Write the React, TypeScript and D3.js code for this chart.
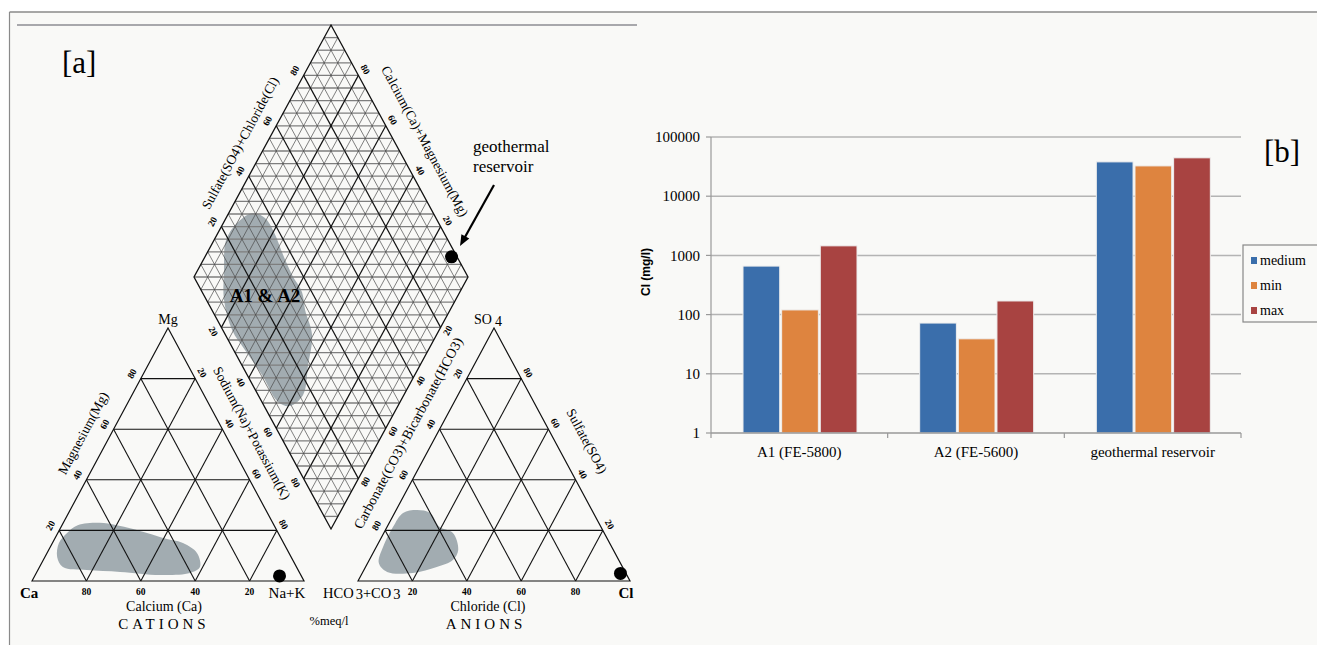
import React from "react"
import * as d3 from "d3"

// ---- bar chart data [b] ----
const categories = ["A1 (FE-5800)", "A2 (FE-5600)", "geothermal reservoir"]
const seriesNames = ["medium", "min", "max"]
const mediumValues = [660, 72, 38000]
const minValues = [120, 39, 32500]
const maxValues = [1450, 170, 44500]
const yTickValues = [1, 10, 100, 1000, 10000, 100000]
const seriesColors = ["#3a6eab", "#de843f", "#a84341"]

// ---- piper diagram data [a] (percent meq/l) ----
const gridSteps = [20, 40, 60, 80]
// cation field: Mg %, Na+K %
const cationFieldMg = [15, 19, 22, 23, 22, 19, 17, 15, 11, 5.5, 3.2, 2.4, 3.6, 4.3, 5.5, 9.5]
const cationFieldNaK = [2.4, 3.4, 5.8, 13.3, 20.2, 32.8, 39.7, 48, 55.2, 59, 56.5, 45.9, 30.6, 18, 8.6, 4.5]
// anion field: SO4 %, Cl %
const anionFieldSO4 = [28.1, 26.9, 21.3, 19, 12.3, 8.3, 5.5, 3.2, 3.6, 7.1, 13.4, 21.3, 26.9]
const anionFieldCl = [7.7, 13.1, 19.4, 25.4, 30.7, 30.7, 26.2, 18.6, 8.9, 4.1, 2.5, 2.2, 3.1]
// diamond field: Na+K %, HCO3+CO3 %
const diamondFieldNaK = [8.8, 14.2, 20.3, 28.1, 35.4, 42.4, 47.1, 54.6, 59.1, 63.2, 60.6, 55.5, 44.3, 33.1, 24.4, 15.5, 9.6, 4.4, 5.2]
const diamondFieldHCO3 = [65.8, 62.4, 61.9, 63.1, 63.8, 63.6, 66, 68.4, 75.8, 83.6, 90.6, 94.1, 94.6, 95.9, 96.6, 93.6, 87.7, 81, 73]
// geothermal reservoir sample: [Mg, Na+K] and [SO4, Cl]
const geoCation = [2, 90]
const geoAnion = [3, 95]

const serif = "'Liberation Serif', 'Times New Roman', serif"
const EDGE = 61.74

function ternary(x0, yb, w, h) {
  const sx = d3.scaleLinear().domain([0, 100]).range([x0, x0 + w])
  const sy = d3.scaleLinear().domain([0, 100]).range([yb, yb - h])
  return (top, right) => [sx(right + top / 2), sy(top)]
}

const cation = ternary(32, 581, 272, 253)
const anion = ternary(358, 581, 272, 253)
const dX = d3.scaleLinear().domain([-100, 100]).range([194, 468])
const dY = d3.scaleLinear().domain([0, 200]).range([25, 529])
const diamond = (nak, hco3) => [dX(nak - hco3), dY(nak + hco3)]

const blob = d3.line().curve(d3.curveCatmullRomClosed.alpha(0.5))

function seg(a, b, key, stroke, sw) {
  return <line key={key} x1={a[0]} y1={a[1]} x2={b[0]} y2={b[1]} stroke={stroke} strokeWidth={sw} />
}

function edgeLabel(p, off, rot, text, key) {
  return (
    <text key={key} transform={`translate(${p[0] + off[0]},${p[1] + off[1]}) rotate(${rot})`}
      textAnchor="middle" dy="0.35em" fontSize={9.5} fontWeight="bold" fontFamily={serif}>{text}</text>
  )
}

function Triangle({ proj, top, right, left }) {
  const corners = [proj(0, 0), proj(100, 0), proj(0, 100)]
  const lines = []
  gridSteps.forEach(v => {
    lines.push(seg(proj(v, 0), proj(v, 100 - v), "t" + v, "#111", 1.1))
    lines.push(seg(proj(0, v), proj(100 - v, v), "r" + v, "#111", 1.1))
    lines.push(seg(proj(0, 100 - v), proj(100 - v, 0), "c" + v, "#111", 1.1))
  })
  return (
    <g>
      {lines}
      <polygon points={corners.map(c => c.join(",")).join(" ")} fill="none" stroke="#111" strokeWidth={1.2} />
      {gridSteps.map(v => edgeLabel(proj(...left(v)), [-9, -5], -EDGE, v, "lt" + v))}
      {gridSteps.map(v => edgeLabel(proj(...right(v)), [7, -6], EDGE, v, "rt" + v))}
      {gridSteps.map(v => edgeLabel(proj(...top(v)), [0, 11], 0, v, "bt" + v))}
    </g>
  )
}

function Piper() {
  const fine = []
  for (let k = 5; k < 100; k += 5) {
    const bold = k % 20 === 0
    fine.push(seg(diamond(k, 0), diamond(k, 100), "n" + k, bold ? "#111" : "#4a4a4a", bold ? 1.2 : 0.7))
    fine.push(seg(diamond(0, k), diamond(100, k), "h" + k, bold ? "#111" : "#4a4a4a", bold ? 1.2 : 0.7))
  }
  const horiz = []
  for (let s = 5; s < 200; s += 5) {
    const a = s <= 100 ? diamond(s, 0) : diamond(100, s - 100)
    const b = s <= 100 ? diamond(0, s) : diamond(s - 100, 100)
    horiz.push(seg(a, b, "s" + s, "#7e7e7e", 1.3))
  }
  const dOutline = [diamond(0, 0), diamond(100, 0), diamond(100, 100), diamond(0, 100)]
  const gD = diamond(geoCation[1], 100 - geoAnion[0] - geoAnion[1])
  const gC = cation(geoCation[0], geoCation[1])
  const gA = anion(geoAnion[0], geoAnion[1])
  const a0 = [494, 185], a1 = [460, 246]
  const len = Math.hypot(a1[0] - a0[0], a1[1] - a0[1])
  const ux = (a1[0] - a0[0]) / len, uy = (a1[1] - a0[1]) / len
  const head = [a1, [a1[0] - 11 * ux - 4.5 * uy, a1[1] - 11 * uy + 4.5 * ux], [a1[0] - 11 * ux + 4.5 * uy, a1[1] - 11 * uy - 4.5 * ux]]
  return (
    <g fontFamily={serif}>
      {/* fields */}
      <path d={blob(diamondFieldNaK.map((n, i) => diamond(n, diamondFieldHCO3[i])))} fill="#a2acb1" />
      <path d={blob(cationFieldMg.map((m, i) => cation(m, cationFieldNaK[i])))} fill="#a2acb1" />
      <path d={blob(anionFieldSO4.map((s, i) => anion(s, anionFieldCl[i])))} fill="#a2acb1" />
      {horiz}
      {fine}
      <polygon points={dOutline.map(c => c.join(",")).join(" ")} fill="none" stroke="#111" strokeWidth={1.3} />
      {gridSteps.map(v => edgeLabel(diamond(0, 100 - v), [-9, -5], -EDGE, v, "dul" + v))}
      {gridSteps.map(v => edgeLabel(diamond(100 - v, 0), [7, -6], EDGE, v, "dur" + v))}
      {gridSteps.map(v => edgeLabel(diamond(v, 100), [-8, 4], EDGE, v, "dll" + v))}
      {gridSteps.map(v => edgeLabel(diamond(100, v), [7, 3], -EDGE, v, "dlr" + v))}

      <Triangle proj={cation} left={v => [v, 0]} right={v => [100 - v, v]} top={v => [0, 100 - v]} />
      <Triangle proj={anion} left={v => [100 - v, 0]} right={v => [v, 100 - v]} top={v => [0, v]} />

      {/* geothermal sample */}
      <circle cx={gD[0]} cy={gD[1]} r={6.5} fill="#000" />
      <circle cx={gC[0]} cy={gC[1]} r={6.5} fill="#000" />
      <circle cx={gA[0]} cy={gA[1]} r={6.5} fill="#000" />
      <line x1={a0[0]} y1={a0[1]} x2={a1[0] - 8 * ux} y2={a1[1] - 8 * uy} stroke="#000" strokeWidth={2.2} />
      <polygon points={head.map(c => c.join(",")).join(" ")} fill="#000" />
      <text x={473} y={152} fontSize={17}>geothermal</text>
      <text x={473} y={172} fontSize={17}>reservoir</text>
      <text x={265} y={302} fontSize={19} fontWeight="bold" textAnchor="middle">A1 &amp; A2</text>

      {/* axis titles */}
      <text transform={`translate(240,143) rotate(${-EDGE})`} textAnchor="middle" dy="0.35em" fontSize={13.5}>Sulfate(SO4)+Chloride(Cl)</text>
      <text transform={`translate(425,141) rotate(${EDGE})`} textAnchor="middle" dy="0.35em" fontSize={13.5}>Calcium(Ca)+Magnesium(Mg)</text>
      <text transform={`translate(252,433) rotate(${EDGE})`} textAnchor="middle" dy="0.35em" fontSize={13.5}>Sodium(Na)+Potassium(K)</text>
      <text transform={`translate(83,433) rotate(${-EDGE})`} textAnchor="middle" dy="0.35em" fontSize={13.5}>Magnesium(Mg)</text>
      <text transform={`translate(408,433) rotate(${-EDGE})`} textAnchor="middle" dy="0.35em" fontSize={14}>Carbonate(CO3)+Bicarbonate(HCO3)</text>
      <text transform={`translate(587,441) rotate(${EDGE})`} textAnchor="middle" dy="0.35em" fontSize={13.5}>Sulfate(SO4)</text>

      {/* vertex labels */}
      <text x={168} y={324} fontSize={14} textAnchor="middle">Mg</text>
      <text x={488} y={324} fontSize={14} textAnchor="middle">SO<tspan dx={3} dy={2}>4</tspan></text>
      <text x={20} y={598} fontSize={15} fontWeight="bold">Ca</text>
      <text x={287} y={598} fontSize={15} textAnchor="middle">Na+K</text>
      <text x={323} y={598} fontSize={14.5}>HCO<tspan dx={2} dy={1}>3</tspan><tspan dy={-1}>+CO</tspan><tspan dx={2} dy={1}>3</tspan></text>
      <text x={626} y={598} fontSize={15} fontWeight="bold" textAnchor="middle">Cl</text>
      <text x={164} y={611} fontSize={14} textAnchor="middle">Calcium (Ca)</text>
      <text x={488} y={611} fontSize={14} textAnchor="middle">Chloride (Cl)</text>
      <text x={164} y={629} fontSize={15} textAnchor="middle" letterSpacing={4}>CATIONS</text>
      <text x={486} y={629} fontSize={15} textAnchor="middle" letterSpacing={4}>ANIONS</text>
      <text x={329} y={625} fontSize={12.5} textAnchor="middle">%meq/l</text>
      <text x={62} y={73} fontSize={31}>[a]</text>
    </g>
  )
}

function BarChart() {
  const x0 = d3.scaleBand().domain(categories).range([711, 1241])
  const x1 = d3.scaleBand().domain(seriesNames).range([32, 146]).paddingInner(0.05)
  const y = d3.scaleLog().domain([1, 100000]).range([433, 137])
  const series = [mediumValues, minValues, maxValues]
  const ticks = categories.map(c => x0(c)).concat([711 + 530])
  return (
    <g fontFamily={serif}>
      {yTickValues.map(t => (
        <g key={t}>
          {t > 1 && <line x1={711} x2={1241} y1={y(t)} y2={y(t)} stroke="#b4b4b4" strokeWidth={1.5} />}
          <line x1={706} x2={711} y1={y(t)} y2={y(t)} stroke="#999" strokeWidth={1.2} />
          <text x={700} y={y(t)} dy="0.35em" textAnchor="end" fontSize={15}>{t}</text>
        </g>
      ))}
      <line x1={711} x2={711} y1={137} y2={433} stroke="#999" strokeWidth={1.2} />
      {series.map((vals, si) => vals.map((v, ci) => (
        <rect key={si + "-" + ci} x={x0(categories[ci]) + x1(seriesNames[si])} y={y(v)}
          width={x1.bandwidth()} height={y(1) - y(v)} fill={seriesColors[si]} stroke="#eeeeee" strokeWidth={1} />
      )))}
      <line x1={711} x2={1241} y1={433} y2={433} stroke="#999" strokeWidth={1.5} />
      {ticks.map((t, i) => <line key={i} x1={t} x2={t} y1={433} y2={438} stroke="#999" strokeWidth={1.2} />)}
      {categories.map(c => (
        <text key={c} x={x0(c) + x0.bandwidth() / 2} y={457} textAnchor="middle" fontSize={15}>{c}</text>
      ))}
      <text transform="translate(650,272) rotate(-90)" textAnchor="middle" fontSize={12} fontWeight="bold"
        fontFamily="'Liberation Sans', Arial, sans-serif">Cl (mg/l)</text>
      <rect x={1243} y={245} width={80} height={77} fill="#f9f9f7" stroke="#888" strokeWidth={1.2} />
      {seriesNames.map((s, i) => (
        <g key={s}>
          <rect x={1251} y={257 + i * 25} width={6} height={7} fill={seriesColors[i]} />
          <text x={1260} y={260.5 + i * 25} dy="0.35em" fontSize={14}>{s}</text>
        </g>
      ))}
      <text x={1264} y={162} fontSize={31}>[b]</text>
    </g>
  )
}

export default function App() {
  return (
    <svg width={1317} height={645} style={{ position: "absolute", left: 0, top: 0, background: "#fff" }}>
      <rect x={0} y={0} width={1317} height={645} fill="#fff" />
      <rect x={9.5} y={12} width={1320} height={640} fill="#f9f9f7" />
      <line x1={9.5} x2={1317} y1={12} y2={12} stroke="#8a8a8a" strokeWidth={1.5} />
      <line x1={9.5} x2={9.5} y1={12} y2={645} stroke="#8a8a8a" strokeWidth={1.2} />
      <line x1={17} x2={637} y1={25} y2={25} stroke="#a8a8ac" strokeWidth={2} />
      <Piper />
      <BarChart />
    </svg>
  )
}
